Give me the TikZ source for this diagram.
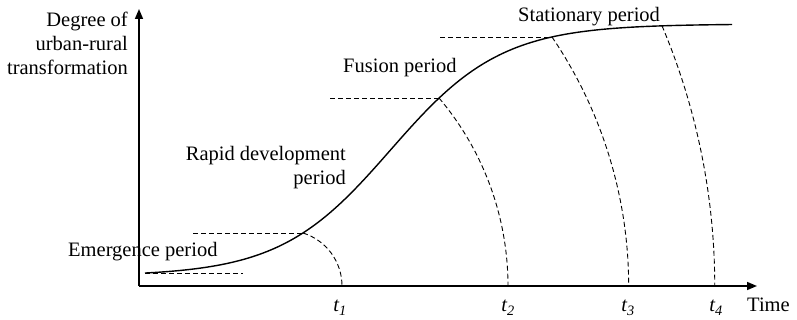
\documentclass[tikz,border=0pt]{standalone}
\usepackage{fontspec}
\setmainfont{Liberation Serif}
\usetikzlibrary{arrows.meta}
\begin{document}
\begin{tikzpicture}[x=1pt,y=1pt,
  axis/.style={line width=1.6pt,-{Triangle[length=10pt,width=8pt]}},
  curve/.style={line width=1.4pt},
  dsh/.style={line width=0.9pt,dash pattern=on 5pt off 3pt},
  lab/.style={inner sep=0pt,font=\fontsize{20.5}{24}\selectfont},
  tlab/.style={inner sep=0pt,anchor=base,font=\fontsize{20.5}{24}\selectfont\itshape}]
\useasboundingbox (0,0) rectangle (797,320);
% axes
\coordinate (O) at (139,34);
\coordinate (ytip) at (139,311);
\coordinate (xtip) at (757,34);
\draw[axis] (O) -- (ytip);
\draw[axis] (O) -- (xtip);
% S-curve (logistic)
\draw[curve] plot[domain=145:732,samples=150,smooth] (\x,{44+252/(1+exp(-0.01805*(\x-390.5)))});
% points on the curve
\coordinate (c0) at (145,47);
\coordinate (p1) at (303,87);
\coordinate (p2) at (439,222);
\coordinate (p3) at (552,283);
\coordinate (p4) at (662,294.2);
% dashed horizontals
\coordinate (h1) at (243,47);
\coordinate (h2) at (193,87);
\coordinate (h3) at (330,222);
\coordinate (h4) at (440,283);
\draw[dsh] (c0) -- (h1);
\draw[dsh] (h2) -- (p1);
\draw[dsh] (h3) -- (p2);
\draw[dsh] (h4) -- (p3);
% dashed arcs
\draw[dsh] (p1) arc[start angle=72.7,end angle=0,radius=55.5] coordinate (a1);
\draw[dsh] (p2) arc[start angle=40.3,end angle=0,radius=290.6] coordinate (a2);
\draw[dsh] (p3) arc[start angle=34.2,end angle=0,radius=443.3] coordinate (a3);
\draw[dsh] (p4) arc[start angle=22.9,end angle=0,radius=669] coordinate (a4);
% labels
\node[lab,align=right,anchor=north east] (ylab) at (128,308.5) {Degree of\\urban-rural\\transformation};
\node[lab,anchor=base west] (emerg) at (68,63) {Emergence period};
\node[lab,align=right,anchor=north east] (rapid) at (346,173.7) {Rapid development\\period};
\node[lab,anchor=base west] (fusion) at (343,247) {Fusion period};
\node[lab,anchor=base west] (stat) at (518,298) {Stationary period};
\node[tlab] (t1) at (340,8) {t\textsubscript{1}};
\node[tlab] (t2) at (508,8) {t\textsubscript{2}};
\node[tlab] (t3) at (628,8) {t\textsubscript{3}};
\node[tlab] (t4) at (716,8) {t\textsubscript{4}};
\node[lab,anchor=base west] (time) at (747,8) {Time};
\end{tikzpicture}
\end{document}
